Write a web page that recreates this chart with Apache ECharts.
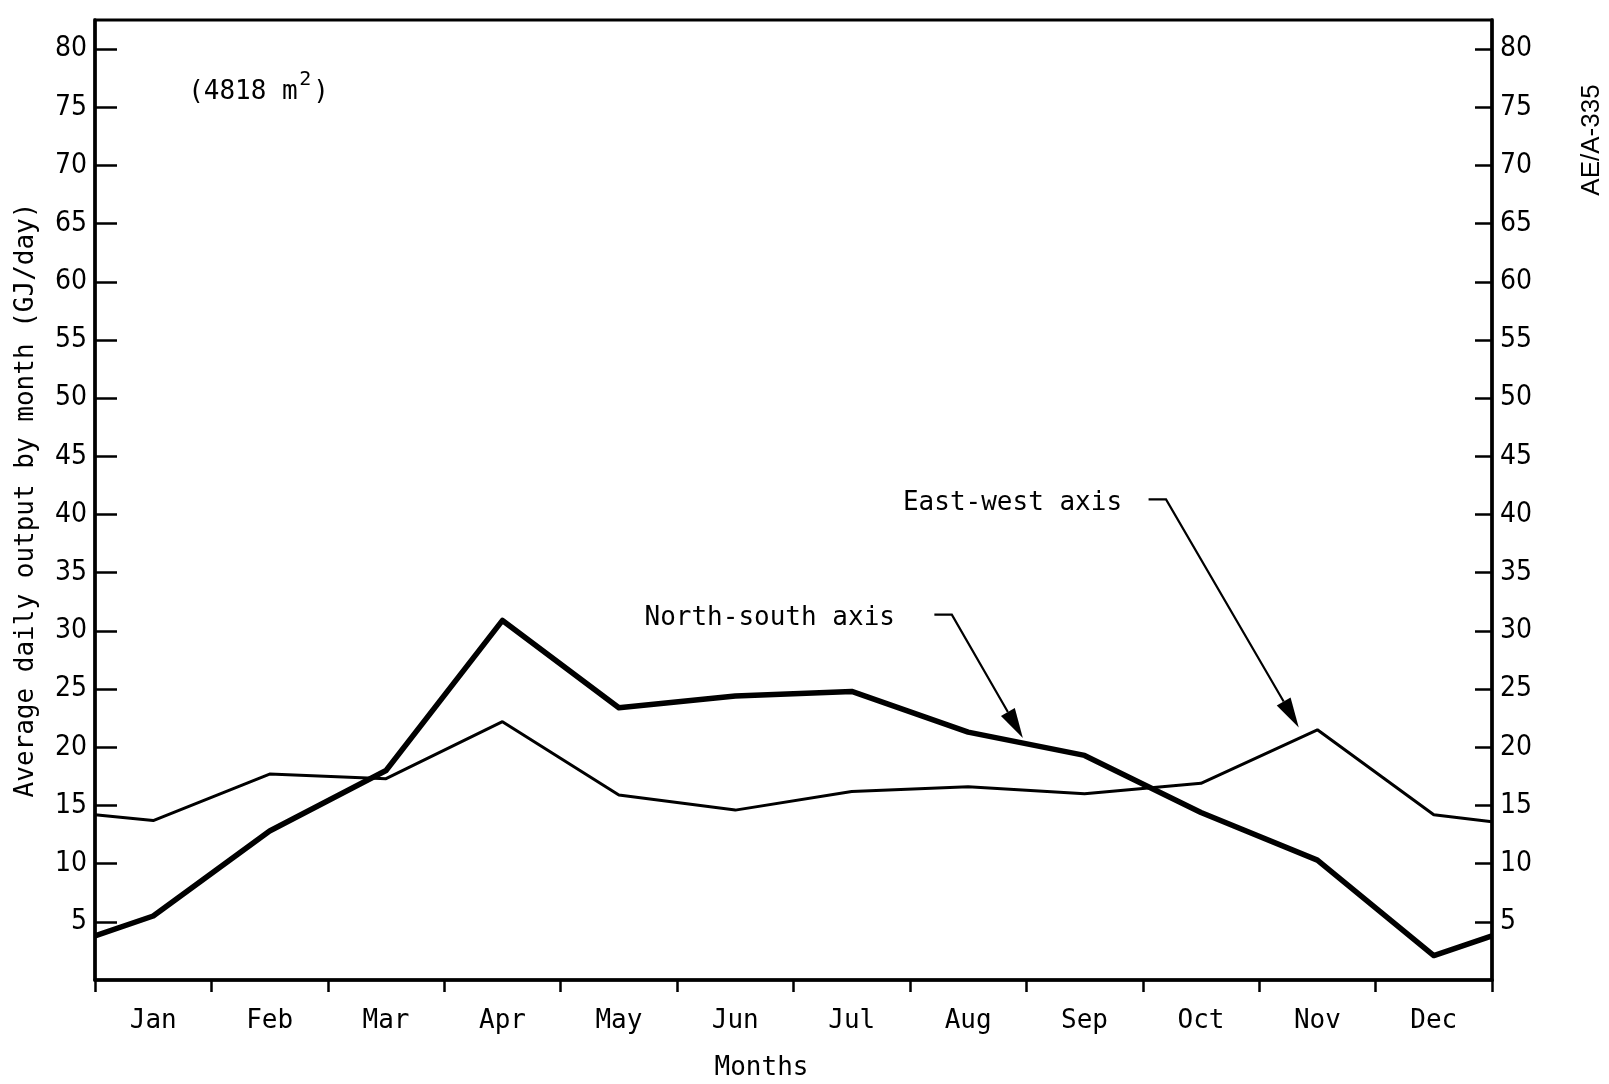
<!DOCTYPE html>
<html>
<head>
<meta charset="utf-8">
<title>Average daily output by month</title>
<script src="https://cdn.jsdelivr.net/npm/echarts@6/dist/echarts.min.js"></script>
<style>
  html, body { margin: 0; padding: 0; background: #fff; }
  #chart { width: 1609px; height: 1084px; }
</style>
</head>
<body>
<div id="chart"></div>
<script>
// data
const months = ["Jan", "Feb", "Mar", "Apr", "May", "Jun", "Jul", "Aug", "Sep", "Oct", "Nov", "Dec"];
const eastWest = [13.7, 17.7, 17.3, 22.2, 15.9, 14.6, 16.2, 16.6, 16.0, 16.9, 21.5, 14.2];
const northSouth = [5.5, 12.8, 18.0, 30.9, 23.4, 24.4, 24.8, 21.3, 19.3, 14.4, 10.3, 2.1];
// values where the curves meet the left / right frame
const eastWestEnds = [14.2, 13.6];
const northSouthEnds = [3.8, 3.8];
const yTicks = [5, 10, 15, 20, 25, 30, 35, 40, 45, 50, 55, 60, 65, 70, 75, 80];

const mono = "DejaVu Sans Mono";
const narrow = "'Liberation Sans Narrow', 'DejaVu Sans Condensed', sans-serif";

// month index -> x position (centre of month = i + 0.5)
function withEnds(vals, ends) {
  let pts = [[0, ends[0]]];
  vals.forEach((v, i) => pts.push([i + 0.5, v]));
  pts.push([12, ends[1]]);
  return pts;
}

let chart = echarts.init(document.getElementById("chart"), null, { renderer: "canvas" });

let yAxisBase = {
  type: "value",
  min: 0,
  max: 82.5,
  interval: 5,
  splitLine: { show: false },
  axisLine: { show: true, lineStyle: { color: "#000", width: 3.5 } },
  axisTick: { show: true, inside: true, customValues: yTicks, lineStyle: { color: "#000", width: 2.5 } },
  axisLabel: { customValues: yTicks, color: "#000", fontFamily: narrow, fontSize: 28, margin: 8 }
};

let option = {
  backgroundColor: "#fff",
  animation: false,
  grid: {
    left: 95,
    right: 117,
    top: 20,
    bottom: 104,
    containLabel: false,
    outerBoundsMode: "none",
    show: true,
    borderColor: "#000",
    borderWidth: 3
  },
  xAxis: [
    {
      type: "category",
      data: months,
      boundaryGap: true,
      name: "Months",
      nameLocation: "middle",
      nameGap: 75,
      nameTextStyle: { color: "#000", fontFamily: mono, fontSize: 26, padding: [0, 64, 0, 0] },
      axisLine: { lineStyle: { color: "#000", width: 3.5 } },
      axisTick: { show: true, interval: 0, length: 12, lineStyle: { color: "#000", width: 2.5 } },
      axisLabel: { interval: 0, color: "#000", fontFamily: mono, fontSize: 26, margin: 28 },
      splitLine: { show: false }
    },
    {
      // hidden axis used to place the points, 0..12 months
      type: "value",
      min: 0,
      max: 12,
      show: false
    }
  ],
  yAxis: [
    Object.assign({}, yAxisBase, {
      position: "left",
      name: "Average daily output by month (GJ/day)",
      nameLocation: "middle",
      nameGap: 56,
      nameTextStyle: { color: "#000", fontFamily: mono, fontSize: 26 },
      axisTick: Object.assign({}, yAxisBase.axisTick, { length: 22 })
    }),
    Object.assign({}, yAxisBase, {
      position: "right",
      axisTick: Object.assign({}, yAxisBase.axisTick, { length: 17 })
    })
  ],
  series: [
    {
      name: "East-west axis",
      type: "line",
      xAxisIndex: 1,
      yAxisIndex: 0,
      data: withEnds(eastWest, eastWestEnds),
      showSymbol: false,
      lineStyle: { color: "#000", width: 3 }
    },
    {
      name: "North-south axis",
      type: "line",
      xAxisIndex: 1,
      yAxisIndex: 0,
      data: withEnds(northSouth, northSouthEnds),
      showSymbol: false,
      lineStyle: { color: "#000", width: 5.5, join: "round" }
    }
  ]
};

chart.setOption(option);

// annotation anchors in data space (month units, GJ/day)
const nsNote = { text: "North-south axis", at: [4.72, 31.1], path: [[7.21, 31.4], [7.36, 31.4], [7.97, 20.8]] };
const ewNote = { text: "East-west axis", at: [6.94, 41.0], path: [[9.05, 41.3], [9.2, 41.3], [10.34, 21.7]] };
const areaNote = { at: [0.8, 76.3] };

function px(p) {
  return chart.convertToPixel({ xAxisIndex: 1, yAxisIndex: 0 }, p);
}

function arrow(note) {
  let pts = note.path.map(px);
  let tip = pts[pts.length - 1];
  let prev = pts[pts.length - 2];
  let dx = tip[0] - prev[0], dy = tip[1] - prev[1];
  let len = Math.sqrt(dx * dx + dy * dy);
  let ux = dx / len, uy = dy / len;
  let hl = 30, hw = 8;
  let bx = tip[0] - ux * hl, by = tip[1] - uy * hl;
  let head = [tip, [bx - uy * hw, by + ux * hw], [bx + uy * hw, by - ux * hw]];
  let textPos = px(note.at);
  return [
    {
      type: "text",
      style: { text: note.text, x: textPos[0], y: textPos[1], font: "26px " + mono, fill: "#000", verticalAlign: "middle" }
    },
    {
      type: "polyline",
      shape: { points: pts.slice(0, -1).concat([[bx, by]]) },
      style: { stroke: "#000", lineWidth: 2.2, fill: null }
    },
    {
      type: "polygon",
      shape: { points: head },
      style: { fill: "#000" }
    }
  ];
}

let a = px(areaNote.at);
let graphics = [].concat(arrow(nsNote), arrow(ewNote), [
  { type: "text", style: { text: "(4818 m", x: a[0], y: a[1], font: "26px " + mono, fill: "#000", verticalAlign: "middle" } },
  { type: "text", style: { text: "2", x: a[0] + 111, y: a[1] - 12, font: "20px " + mono, fill: "#000", verticalAlign: "middle" } },
  { type: "text", style: { text: ")", x: a[0] + 125, y: a[1], font: "26px " + mono, fill: "#000", verticalAlign: "middle" } },
  {
    type: "text",
    x: 1592,
    y: 140,
    rotation: Math.PI / 2,
    style: { text: "AE/A-335", x: 0, y: 0, font: "26px 'Liberation Sans', sans-serif", fill: "#000", align: "center", verticalAlign: "middle" }
  }
]);

chart.setOption({ graphic: graphics });
</script>
</body>
</html>
